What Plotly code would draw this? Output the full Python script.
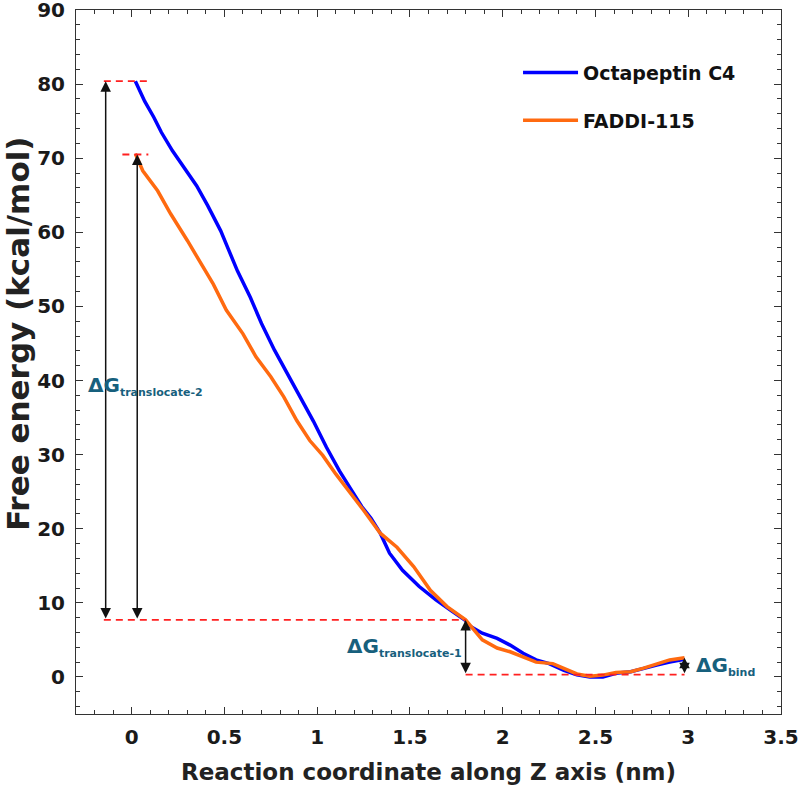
import plotly.graph_objects as go

# Free energy profiles
octa_x = [0.02, 0.07, 0.12, 0.16, 0.22, 0.28, 0.35, 0.41, 0.48, 0.52, 0.57, 0.64, 0.70, 0.77,
          0.84, 0.91, 0.98, 1.05, 1.12, 1.19, 1.24, 1.29, 1.34, 1.39, 1.46, 1.55, 1.64, 1.72,
          1.80, 1.82, 1.89, 1.97, 2.04, 2.11, 2.18, 2.25, 2.33, 2.40, 2.47, 2.54, 2.61, 2.69,
          2.76, 2.83, 2.90, 2.98]
octa_y = [80.4, 77.7, 75.5, 73.5, 71.0, 68.8, 66.3, 63.6, 60.2, 57.8, 54.8, 51.2, 47.7, 44.1,
          40.9, 37.8, 34.5, 31.0, 27.8, 25.0, 23.0, 21.4, 19.4, 16.7, 14.4, 12.2, 10.4, 9.0,
          7.6, 6.9, 5.9, 5.2, 4.3, 3.2, 2.3, 1.8, 0.9, 0.3, 0.0, 0.0, 0.5, 0.7,
          1.2, 1.6, 2.0, 2.4]

faddi_x = [0.02, 0.06, 0.14, 0.21, 0.30, 0.37, 0.44, 0.51, 0.60, 0.67, 0.75, 0.82, 0.89, 0.96,
           1.03, 1.10, 1.16, 1.25, 1.34, 1.43, 1.52, 1.61, 1.70, 1.80, 1.89, 1.97, 2.04, 2.11,
           2.18, 2.27, 2.33, 2.40, 2.47, 2.54, 2.61, 2.69, 2.76, 2.83, 2.90, 2.98]
faddi_y = [70.6, 68.3, 65.6, 62.5, 58.9, 56.0, 53.0, 49.5, 46.3, 43.2, 40.5, 37.8, 34.6, 31.9,
           29.9, 27.4, 25.5, 22.5, 19.4, 17.5, 14.9, 11.7, 9.5, 7.7, 5.0, 3.9, 3.4, 2.7,
           2.0, 1.8, 1.2, 0.4, 0.1, 0.25, 0.6, 0.7, 1.2, 1.8, 2.3, 2.6]

# energy levels used for the ΔG markers
level_octa = 80.4
level_faddi = 70.5
level_mid = 7.7
level_min = 0.3
level_end = 2.6

x_ticks = [0, 0.5, 1, 1.5, 2, 2.5, 3, 3.5]
y_ticks = [0, 10, 20, 30, 40, 50, 60, 70, 80, 90]

FONT = "DejaVu Sans, Verdana, sans-serif"
LABEL_COLOR = "#17607D"

fig = go.Figure()
fig.add_trace(go.Scatter(x=octa_x, y=octa_y, mode="lines", name="<b>Octapeptin C4</b>",
                         legendgroup="a", line=dict(color="#0000FF", width=3.5)))
fig.add_trace(go.Scatter(x=faddi_x, y=faddi_y, mode="lines", name="<b>FADDI-115</b>",
                         legendgroup="b", line=dict(color="#FF6A10", width=3.5)))

# red dashed reference levels
red = dict(color="#FF2020", width=1.8, dash="7px,5px")
fig.add_shape(type="line", x0=-0.15, x1=0.09, y0=level_octa, y1=level_octa, line=red)
fig.add_shape(type="line", x0=-0.05, x1=0.09, y0=level_faddi, y1=level_faddi, line=red)
fig.add_shape(type="line", x0=-0.15, x1=1.8, y0=level_mid, y1=level_mid, line=red)
fig.add_shape(type="line", x0=1.8, x1=2.98, y0=level_min, y1=level_min, line=red)

# double headed arrows
arrows = [(-0.14, level_mid, level_octa), (0.03, level_mid, level_faddi),
          (1.8, level_min, level_mid), (2.98, level_min, level_end)]
for ax_, y0, y1 in arrows:
    fig.add_annotation(x=ax_, y=y1, ax=ax_, ay=y0, xref="x", yref="y", axref="x", ayref="y",
                       text="", showarrow=True, arrowhead=2, arrowside="end+start",
                       arrowsize=1.4, arrowwidth=1.5, arrowcolor="#111111", standoff=0,
                       startstandoff=0)

sub = "<sub><span style='font-size:11px'>%s</span></sub>"
lab_font = dict(family=FONT, size=20, color=LABEL_COLOR)
fig.add_annotation(x=-0.245, y=39.2, text="<b>ΔG" + sub % "translocate-2" + "</b>",
                   showarrow=False, xanchor="left", yanchor="middle", font=lab_font)
fig.add_annotation(x=1.79, y=4.1, text="<b>ΔG" + sub % "translocate-1" + "</b>",
                   showarrow=False, xanchor="right", yanchor="middle", font=lab_font)
fig.add_annotation(x=3.03, y=1.5, text="<b>ΔG" + sub % "bind" + "</b>",
                   showarrow=False, xanchor="left", yanchor="middle", font=lab_font)

# y axis title placed as rotated text
fig.add_annotation(x=0, y=0.54, xref="paper", yref="paper", xshift=-58,
                   text="<b>Free energy (kcal/mol)</b>", textangle=-90, showarrow=False,
                   xanchor="center", yanchor="middle",
                   font=dict(family=FONT, size=31, color="#222222"))

axis_common = dict(showline=True, linecolor="#333333", linewidth=1, mirror="allticks",
                   ticks="inside", ticklen=7, tickcolor="#333333", showgrid=False,
                   zeroline=False, ticklabeloverflow="allow", automargin=False,
                   tickfont=dict(family=FONT, size=20, color="#1a1a1a"))

fig.update_layout(
    width=798, height=788,
    margin=dict(l=76, r=17, t=10, b=74),
    plot_bgcolor="white", paper_bgcolor="white",
    font=dict(family=FONT, color="#222222"),
    xaxis=dict(range=[-0.3, 3.5001], tickvals=x_ticks, ticklabelstandoff=5,
               ticktext=["<b>%g</b>" % v for v in x_ticks],
               minor=dict(dtick=0.1, tick0=0, ticks="inside", ticklen=4, tickcolor="#333333"),
               title=dict(text="<b>Reaction coordinate along Z axis (nm)</b>",
                          font=dict(family=FONT, size=23, color="#222222"), standoff=15),
               **axis_common),
    yaxis=dict(range=[-5, 90.001], tickvals=y_ticks, ticklabelstandoff=6,
               ticktext=["<b>%g</b>" % v for v in y_ticks],
               minor=dict(dtick=2, tick0=0, ticks="inside", ticklen=4, tickcolor="#333333"),
               **axis_common),
    legend=dict(x=0.627, y=0.938, xanchor="left", yanchor="top", tracegroupgap=20,
                itemwidth=55,
                font=dict(family=FONT, size=19, color="#111111"), bgcolor="rgba(0,0,0,0)"),
)

# drop the default page margin so the figure sits at the window origin
fig.write_html("out.html", config={"displayModeBar": False},
               post_script="document.body.style.margin='0';document.body.style.overflow='hidden';")
